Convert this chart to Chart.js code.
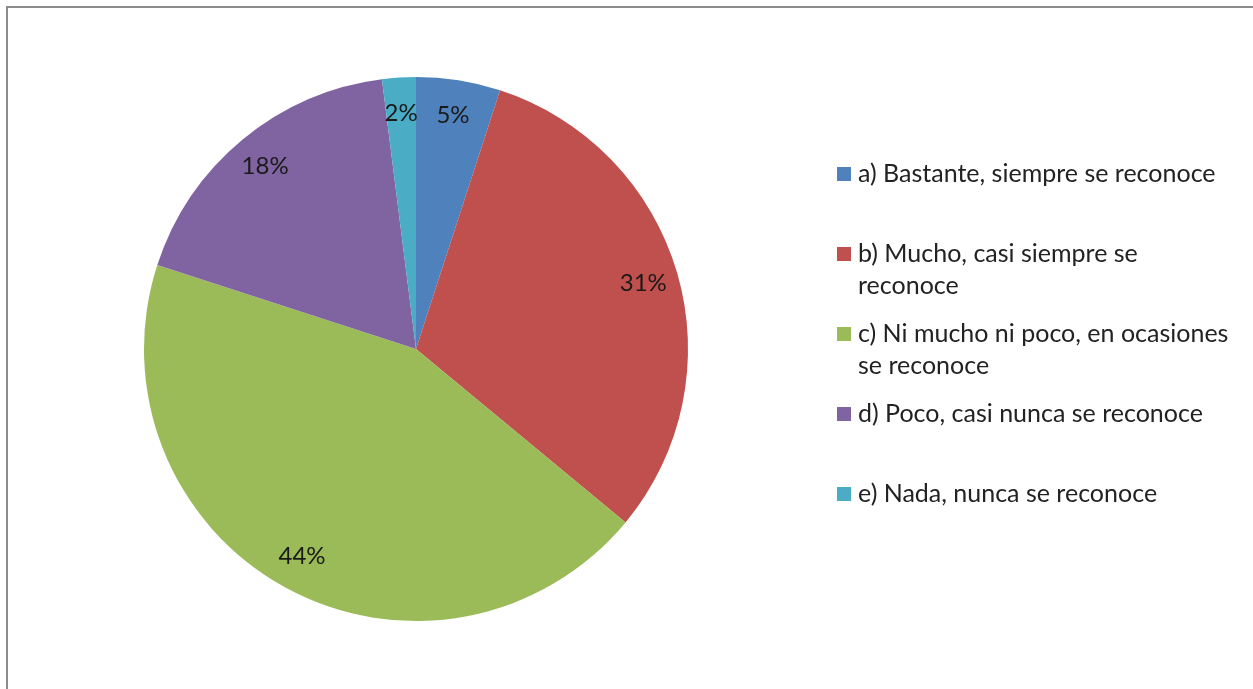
<!DOCTYPE html>
<html>
<head>
<meta charset="utf-8">
<script src="https://cdn.jsdelivr.net/npm/chart.js@4/dist/chart.umd.min.js"></script>
<style>
  html, body { margin: 0; padding: 0; background: #fff; }
  #wrap { position: relative; width: 1253px; height: 689px; overflow: hidden; }
  #frame {
    position: absolute; left: 6px; top: 6px; right: -10px; bottom: -10px;
    border-top: 2px solid #8c8c8c; border-left: 2px solid #8c8c8c;
  }
  canvas { position: absolute; left: 0; top: 0; }
</style>
</head>
<body>
<div id="wrap">
  <div id="frame"></div>
  <canvas id="pie" width="1253" height="689"></canvas>
</div>
<script>
const categories = [
  "a) Bastante, siempre se reconoce",
  "b) Mucho, casi siempre se reconoce",
  "c) Ni mucho ni poco, en ocasiones se reconoce",
  "d) Poco, casi nunca se reconoce",
  "e) Nada, nunca se reconoce"
];
const percentages = [5, 31, 44, 18, 2];
const sliceColors = ["#4f81bd", "#c0504d", "#9bbb59", "#8064a2", "#4bacc6"];

const FONT = "Lato, 'Open Sans', sans-serif";

// percent labels placed inside each slice, near the rim
const sliceLabels = {
  id: "sliceLabels",
  afterDatasetsDraw(chart) {
    const ctx = chart.ctx;
    const meta = chart.getDatasetMeta(0);
    ctx.save();
    ctx.font = "24px " + FONT;
    ctx.fillStyle = "#1a1a1a";
    ctx.textAlign = "center";
    ctx.textBaseline = "middle";
    meta.data.forEach((arc, i) => {
      const p = arc.getProps(["x", "y", "startAngle", "endAngle", "outerRadius"], true);
      const mid = (p.startAngle + p.endAngle) / 2;
      const r = p.outerRadius * 0.87;
      ctx.fillText(percentages[i] + "%", p.x + Math.cos(mid) * r, p.y + Math.sin(mid) * r);
    });
    ctx.restore();
  }
};

// legend on the right with wrapped entries
const sideLegend = {
  id: "sideLegend",
  afterDraw(chart) {
    const ctx = chart.ctx;
    const x0 = 837, textX = 858, maxW = 378, lineH = 32;
    ctx.save();
    ctx.font = "25px " + FONT;
    ctx.textBaseline = "middle";
    chart.data.labels.forEach((label, i) => {
      const y = 174 + i * 80;
      ctx.fillStyle = sliceColors[i];
      ctx.fillRect(x0, y - 7, 14, 14);
      const words = label.split(" ");
      const lines = [];
      let cur = "";
      words.forEach(w => {
        const test = cur ? cur + " " + w : w;
        if (ctx.measureText(test).width > maxW && cur) { lines.push(cur); cur = w; }
        else cur = test;
      });
      lines.push(cur);
      ctx.fillStyle = "#222";
      lines.forEach((ln, k) => ctx.fillText(ln, textX, y + k * lineH));
    });
    ctx.restore();
  }
};

new Chart(document.getElementById("pie"), {
  type: "pie",
  data: {
    labels: categories,
    datasets: [{
      data: percentages,
      backgroundColor: sliceColors,
      borderWidth: 0
    }]
  },
  options: {
    responsive: false,
    animation: false,
    layout: { padding: { left: 144, right: 565, top: 77, bottom: 68 } },
    plugins: {
      legend: { display: false },
      tooltip: { enabled: false }
    }
  },
  plugins: [sliceLabels, sideLegend]
});
</script>
</body>
</html>
